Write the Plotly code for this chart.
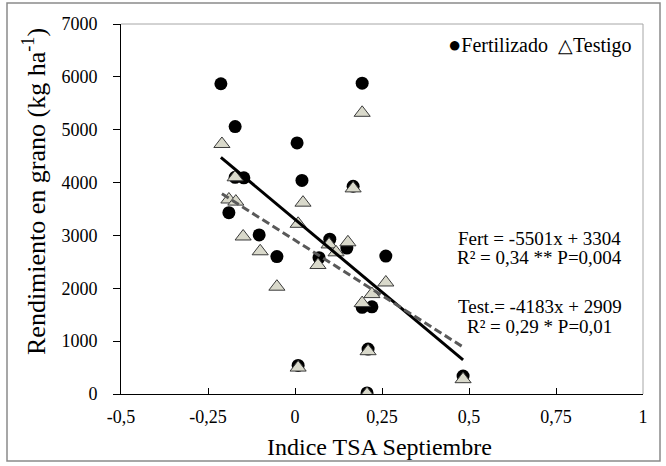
import plotly.graph_objects as go

# ---- data ----
fert_x = [-0.213, -0.172, -0.172, -0.147, -0.190, -0.103, -0.052, 0.006, 0.020, 0.009,
          0.069, 0.100, 0.149, 0.167, 0.193, 0.193, 0.221, 0.210, 0.207, 0.261, 0.483]
fert_y = [5870, 5060, 4100, 4090, 3430, 3010, 2600, 4750, 4040, 540,
          2580, 2930, 2760, 3930, 5880, 1640, 1650, 850, 20, 2610, 340]

test_x = [-0.210, -0.172, -0.190, -0.170, -0.149, -0.100, -0.052, 0.009, 0.023, 0.009,
          0.066, 0.098, 0.118, 0.152, 0.167, 0.193, 0.193, 0.221, 0.261, 0.210, 0.207, 0.483]
test_y = [4730, 4100, 3680, 3640, 2980, 2700, 2030, 3220, 3620, 500,
          2440, 2830, 2680, 2870, 3890, 5320, 1720, 1890, 2110, 810, 0, 280]

fert_slope, fert_intercept = -5501, 3304
test_slope, test_intercept = -4183, 2909
fert_r2, fert_p = "0,34 **", "0,004"
test_r2, test_p = "0,29 *", "0,01"

series_names = ["Fertilizado", "Testigo"]
legend_glyphs = ["●", "△"]
legend_glyph_sizes = [22, 19]

x_tickvals = [-0.5, -0.25, 0, 0.25, 0.5, 0.75, 1]
x_ticktext = ["-0,5", "-0,25", "0", "0,25", "0,5", "0,75", "1"]
y_tickvals = [0, 1000, 2000, 3000, 4000, 5000, 6000, 7000]

FONT = "Liberation Serif"

fig = go.Figure()
fig.add_trace(go.Scatter(x=fert_x, y=fert_y, mode="markers", name=series_names[0],
                         marker=dict(symbol="circle", size=13, color="#000000")))
fig.add_trace(go.Scatter(x=test_x, y=test_y, mode="markers", name=series_names[1],
                         marker=dict(symbol="triangle-up", size=14, color="#d9d9cb",
                                     line=dict(color="#3a3a3a", width=1))))

fx = [min(fert_x), max(fert_x)]
fig.add_trace(go.Scatter(x=fx, y=[fert_slope * v + fert_intercept for v in fx], mode="lines",
                         line=dict(color="#000000", width=3), showlegend=False, hoverinfo="skip"))
tx = [min(test_x), max(test_x)]
fig.add_trace(go.Scatter(x=tx, y=[test_slope * v + test_intercept for v in tx], mode="lines",
                         line=dict(color="#595959", width=3, dash="8px,4px"),
                         showlegend=False, hoverinfo="skip"))

L, R, T, B, W, H = 121, 23, 24, 72, 666, 466
pw, ph = W - L - R, H - T - B


def px_x(p):
    return (p - L) / pw


def px_y(p):
    return (H - B - p) / ph


shapes = [
    # outer chart border
    dict(type="rect", xref="paper", yref="paper", x0=px_x(7), x1=px_x(660), y0=px_y(461), y1=px_y(3),
         line=dict(color="#8a8a8a", width=1.5), layer="above"),
    # plot-area frame (top and right, light grey)
    dict(type="line", xref="paper", yref="paper", x0=0, x1=1, y0=1, y1=1,
         line=dict(color="#a6a6a6", width=1), layer="above"),
    dict(type="line", xref="paper", yref="paper", x0=1, x1=1, y0=0, y1=1,
         line=dict(color="#a6a6a6", width=1), layer="above"),
]

annotations = [
    dict(text=f"Fert = {fert_slope}x + {fert_intercept}", x=0.704, y=2950),
    dict(text=f"R² = {fert_r2} P={fert_p}", x=0.704, y=2590),
    dict(text=f"Test.= {test_slope}x + {test_intercept}", x=0.704, y=1650),
    dict(text=f"R² = {test_r2} P={test_p}", x=0.704, y=1270),
]
for a in annotations:
    a.update(xref="x", yref="y", showarrow=False, xanchor="center", yanchor="middle",
             font=dict(family=FONT, size=19, color="#000000"))

# legend drawn as text, like the reference
legend_text = "&nbsp;&nbsp;".join(
    f"<span style='font-size:{s}px'>{g}</span>{n}"
    for g, n, s in zip(legend_glyphs, series_names, legend_glyph_sizes))
annotations.append(dict(text=legend_text, xref="paper", yref="paper",
                        x=px_x(634), y=px_y(44), showarrow=False,
                        xanchor="right", yanchor="middle",
                        font=dict(family=FONT, size=20, color="#000000")))

annotations.append(dict(text="Rendimiento en grano (kg ha<sup>-1</sup>)", xref="paper", yref="paper",
                        x=px_x(34), y=px_y(192), textangle=-90, showarrow=False,
                        xanchor="center", yanchor="middle",
                        font=dict(family=FONT, size=26, color="#000000")))
annotations.append(dict(text="Indice TSA Septiembre", xref="paper", yref="paper",
                        x=px_x(379), y=px_y(447), showarrow=False,
                        xanchor="center", yanchor="middle",
                        font=dict(family=FONT, size=24, color="#000000")))

fig.update_layout(
    width=W, height=H, autosize=False,
    margin=dict(l=L, r=R, t=T, b=B),
    paper_bgcolor="white", plot_bgcolor="white",
    font=dict(family=FONT, size=18, color="#000000"),
    showlegend=False,
    shapes=shapes,
    annotations=annotations,
)
fig.update_xaxes(range=[-0.5, 1], tickvals=x_tickvals, ticktext=x_ticktext,
                 showgrid=False, zeroline=False, showline=True, linecolor="#000000", linewidth=1,
                 ticks="inside", ticklen=6, tickcolor="#000000",
                 tickfont=dict(family=FONT, size=18, color="#000000"), ticklabelstandoff=6)
fig.update_yaxes(range=[0, 7000], tickvals=y_tickvals,
                 showgrid=False, zeroline=False, showline=True, linecolor="#000000", linewidth=1,
                 ticks="outside", ticklen=7, tickcolor="#000000",
                 tickfont=dict(family=FONT, size=18, color="#000000"), ticklabelstandoff=12)

fig.write_html("out.html", config={"displayModeBar": False},
               post_script="document.body.style.margin='0';document.body.style.overflow='hidden';")
